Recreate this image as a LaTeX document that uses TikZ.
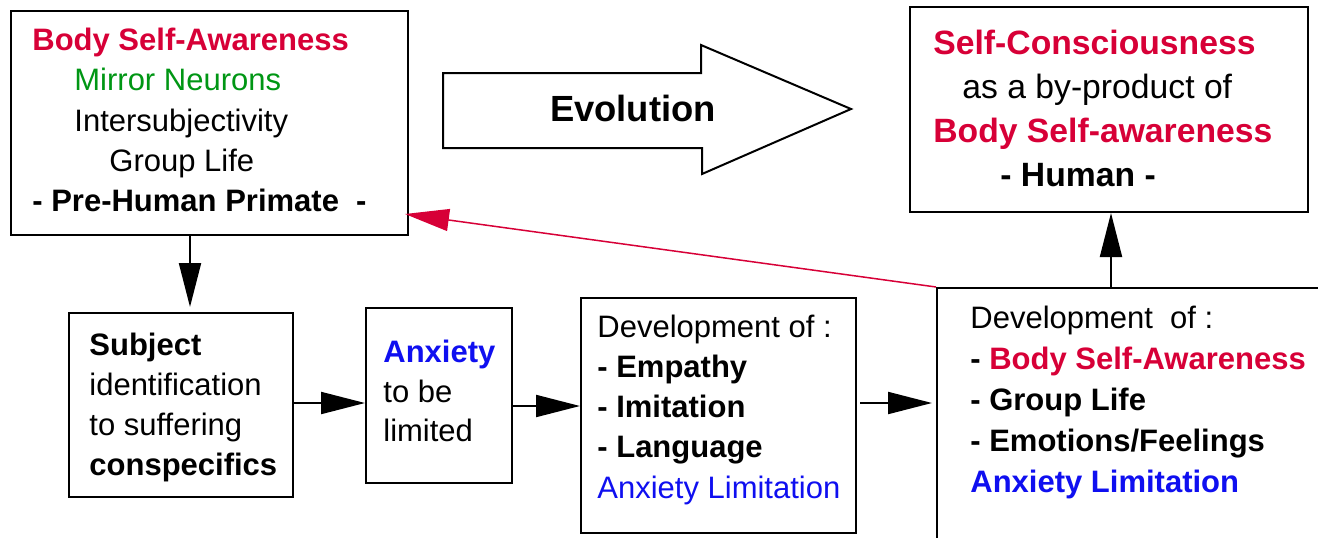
\documentclass[tikz,border=0pt]{standalone}
\usepackage{fontspec}
\setmainfont{Liberation Sans}
\usetikzlibrary{arrows.meta,fit}
\definecolor{bodyred}{RGB}{215,0,55}
\definecolor{neurongreen}{RGB}{0,150,20}
\definecolor{anxblue}{RGB}{15,15,240}
\newcommand{\myred}[1]{\textcolor{bodyred}{\bfseries #1}}
\newcommand{\myblue}[1]{\textcolor{anxblue}{#1}}
\newcommand{\mygreen}[1]{\textcolor{neurongreen}{#1}}

\begin{document}
\begin{tikzpicture}[x=0.5pt,y=-0.5pt,
  box/.style={draw,line width=1pt,inner sep=0pt},
  txt/.style={anchor=base west,inner sep=0pt,font=\fontsize{15.5}{20.15}\selectfont},
  arr/.style={line width=1pt,-{Triangle[length=22pt,width=11pt]}},
  redarr/.style={draw=bodyred,line width=0.75pt,-{Triangle[length=22pt,width=11pt]}}]
\useasboundingbox (0,0) rectangle (1318,537);

% boxes
\node[box,fit={(11,11) (408,235)}] (pre) {};
\node[box,fit={(910,7) (1308,212)}] (human) {};
\node[box,fit={(69,313) (293,497)}] (subj) {};
\node[box,fit={(366,308) (512,483)}] (anx) {};
\node[box,fit={(581,298) (856,533)}] (dev1) {};
\node[box,fit={(937,288) (1340,560)}] (dev2) {};

% texts
\node[txt] (preText) at (32,50.5) {
\begin{tabular}[t]{@{}l@{}}
\myred{Body Self-Awareness} \\
\hspace{21pt}\mygreen{Mirror Neurons} \\
\hspace{21pt}Intersubjectivity \\
\hspace{38.5pt}Group Life \\
\bfseries - Pre-Human Primate\ \ - \\
\end{tabular}
};
\node[txt,font=\fontsize{16.85}{22.15}\selectfont] (humanText) at (933,54) {
\begin{tabular}[t]{@{}l@{}}
\myred{Self-Consciousness} \\
\hspace{14.5pt}as a by-product of \\
\myred{Body Self-awareness} \\
\hspace{33.5pt}\bfseries - Human - \\
\end{tabular}
};
\node[txt] (subjText) at (89,355) {
\begin{tabular}[t]{@{}l@{}}
\bfseries Subject \\
identification \\
to suffering \\
\bfseries conspecifics \\
\end{tabular}
};
\node[txt,font=\fontsize{15.5}{19.75}\selectfont] (anxText) at (383,362.5) {
\begin{tabular}[t]{@{}l@{}}
\myblue{\bfseries Anxiety} \\
to be \\
limited \\
\end{tabular}
};
\node[txt] (dev1Text) at (597,337) {
\begin{tabular}[t]{@{}l@{}}
Development of : \\
\bfseries - Empathy \\
\bfseries - Imitation \\
\bfseries - Language \\
\myblue{Anxiety Limitation} \\
\end{tabular}
};
\node[txt,font=\fontsize{15.5}{20.6}\selectfont] (dev2Text) at (970,328) {
\begin{tabular}[t]{@{}l@{}}
Development\ \ of : \\
\bfseries - \myred{Body Self-Awareness} \\
\bfseries - Group Life \\
\bfseries - Emotions/Feelings \\
\myblue{\bfseries Anxiety Limitation} \\
\end{tabular}
};

% evolution arrow
\draw[line width=1pt] (443,73) -- (701,73) -- (701,45) -- (851,109)
  -- (702,174) -- (702,148) -- (443,148) -- cycle;
\node[anchor=base,inner sep=0pt,font=\fontsize{18.2}{22}\selectfont\bfseries] (evo) at (633,121) {Evolution};

% connectors
\draw[arr] ([xshift=-9.75pt]pre.south) -- ([xshift=-9.75pt,yshift=2.5pt]pre.south |- subj.north);
\draw[arr] ([yshift=1pt]subj.east) -- ([yshift=1pt]subj.east -| anx.west);
\draw[arr] ([yshift=-5.25pt]anx.east) -- ([yshift=-5.25pt]anx.east -| dev1.west);
\draw[arr] ([xshift=1.5pt,yshift=6.25pt]dev1.east) -- ([xshift=-2pt,yshift=6.25pt]dev1.east -| dev2.west);
\draw[arr] ([xshift=1pt]human.south |- dev2.north) -- ([xshift=1pt]human.south);
\draw[redarr] (dev2.north west) -- ([xshift=-2pt,yshift=11pt]pre.south east);
\end{tikzpicture}
\end{document}
